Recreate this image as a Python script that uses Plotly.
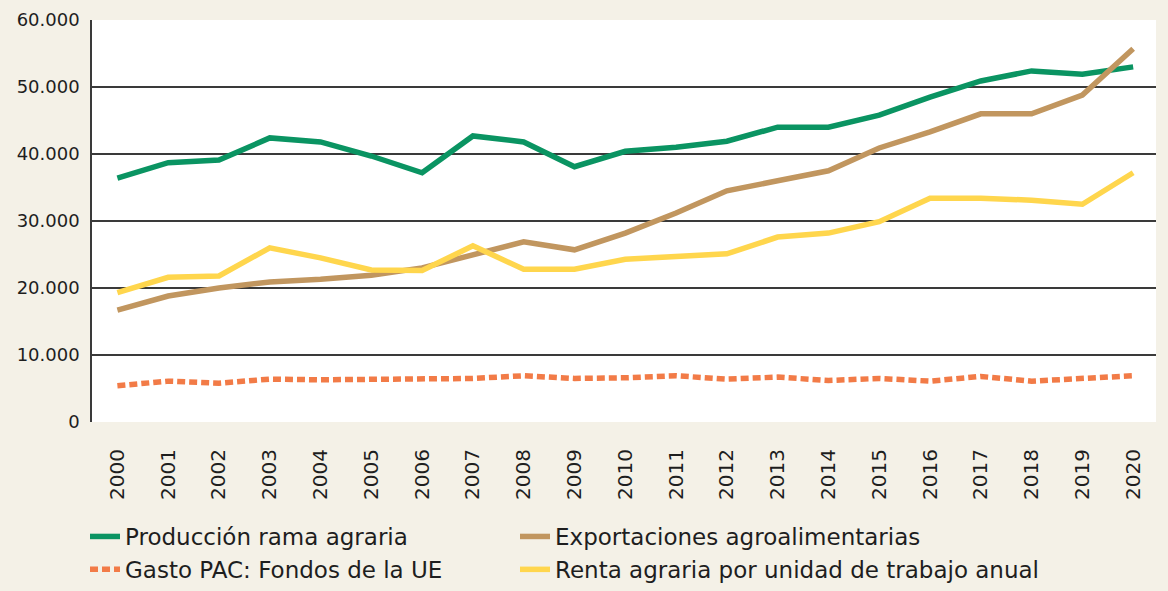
import plotly.graph_objects as go

years = list(range(2000, 2021))
produccion = [36400, 38700, 39100, 42400, 41800, 39700, 37200, 42700, 41800, 38100, 40400,
              41000, 41900, 44000, 44000, 45800, 48500, 50900, 52400, 51900, 53000]
exportaciones = [16700, 18800, 20000, 20900, 21300, 21900, 23000, 24900, 26900, 25700, 28200,
                 31200, 34500, 36000, 37500, 40900, 43300, 46000, 46000, 48800, 55700]
gasto_pac = [5400, 6100, 5800, 6400, 6300, 6400, 6600, 6500, 6900, 6500, 6600,
             6900, 6400, 6700, 6200, 6500, 6100, 6800, 6100, 6500, 6900]
renta = [19300, 21600, 21800, 26000, 24500, 22700, 22600, 26300, 22800, 22800, 24300,
         24800, 25100, 27600, 28200, 29900, 33400, 33400, 33100, 32500, 37200]

y_ticks = [0, 10000, 20000, 30000, 40000, 50000, 60000]
y_tick_labels = ["0", "10.000", "20.000", "30.000", "40.000", "50.000", "60.000"]

names = ["Producción rama agraria", "Exportaciones agroalimentarias",
         "Gasto PAC: Fondos de la UE", "Renta agraria por unidad de trabajo anual"]
colors = ["#0A9462", "#C1965F", "#F27B47", "#FFD64D"]
legend_ids = ["legend", "legend2", "legend", "legend2"]

fig = go.Figure()
series = [produccion, exportaciones, gasto_pac, renta]
for name, vals, col, lg in zip(names, series, colors, legend_ids):
    dash = "8px,4px" if "Gasto" in name else "solid"
    fig.add_trace(go.Scatter(x=years, y=vals, name=name, mode="lines", legend=lg,
                             line=dict(color=col, width=5.5, dash=dash)))

font_family = "DejaVu Sans, Liberation Sans, Arial, sans-serif"
leg_common = dict(orientation="v", xanchor="left", yanchor="top",
                  xref="container", yref="container",
                  font=dict(size=23, color="#1E1E1E"), traceorder="normal",
                  bgcolor="rgba(0,0,0,0)", itemwidth=30)
fig.update_layout(
    width=1168, height=591,
    paper_bgcolor="#F4F1E7", plot_bgcolor="#FFFFFF",
    margin=dict(l=92, r=12, t=20, b=169, autoexpand=False),
    font=dict(family=font_family, color="#1E1E1E"),
    showlegend=True,
    legend=dict(x=85 / 1168, y=1 - 515 / 591, **leg_common),
    legend2=dict(x=515 / 1168, y=1 - 515 / 591, **leg_common),
    xaxis=dict(range=[1999.5, 2020.45], tickmode="array", tickvals=years,
               ticktext=[str(y) for y in years], tickangle=-90,
               tickfont=dict(size=20), showgrid=False, zeroline=False,
               showline=False, ticks="", ticklabelstandoff=22),
    yaxis=dict(range=[0, 60000], tickmode="array", tickvals=y_ticks, ticktext=y_tick_labels,
               tickfont=dict(size=18), showgrid=True, gridcolor="#3A3A3A", gridwidth=1.5,
               zeroline=False, showline=True, linecolor="#3A3A3A", linewidth=1.5,
               ticks="", ticklabelstandoff=7),
)

fig.write_html("out.html", config={"displayModeBar": False},
               post_script="document.body.style.margin='0';document.body.style.padding='0';"
                           "document.body.style.background='#F4F1E7';")
